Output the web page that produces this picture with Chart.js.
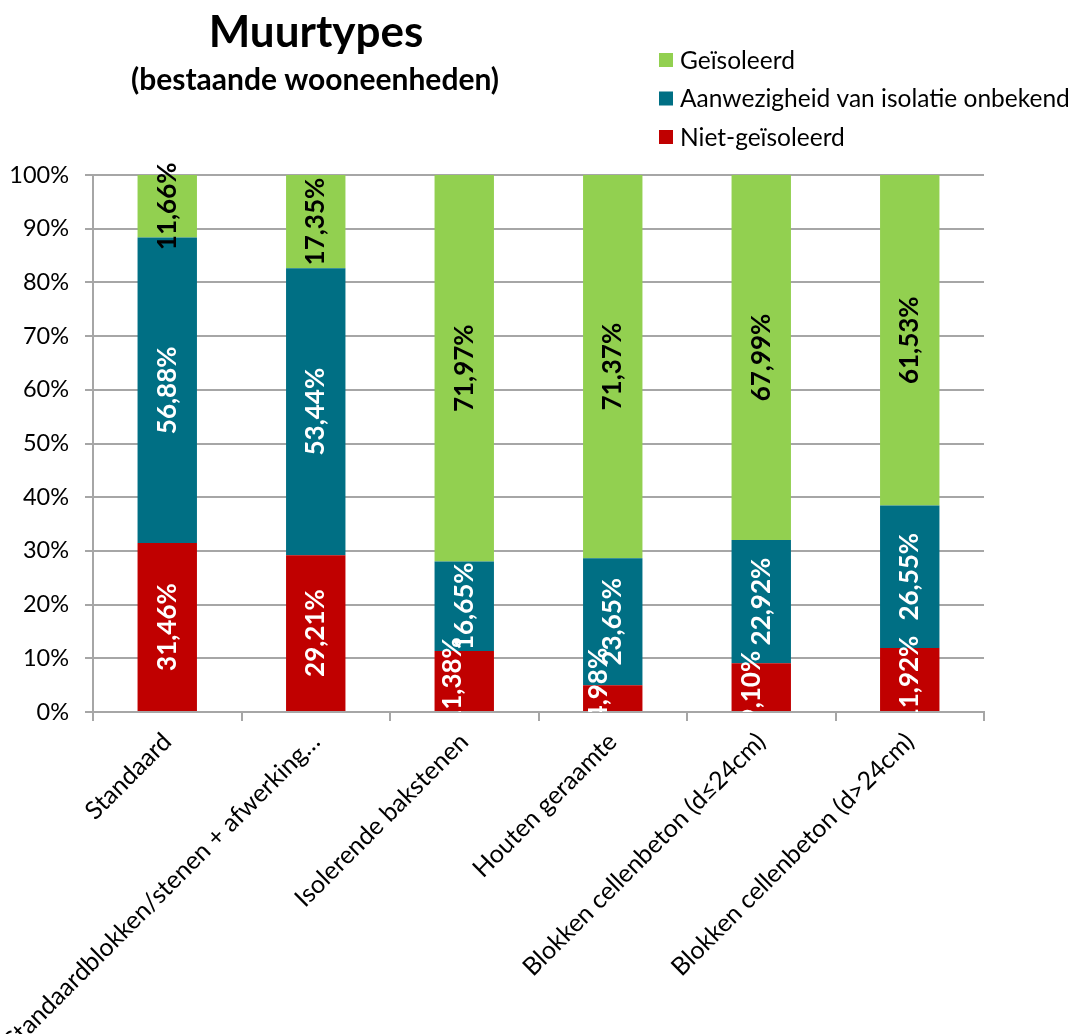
<!DOCTYPE html>
<html lang="nl">
<head>
<meta charset="utf-8">
<title>Muurtypes</title>
<script src="https://cdn.jsdelivr.net/npm/chart.js@4.4.1/dist/chart.umd.min.js"></script>
<style>
  html, body { margin: 0; padding: 0; background: #ffffff; }
  #wrap { position: relative; width: 1075px; height: 1034px; }
</style>
</head>
<body>
<div id="wrap"><canvas id="chart" width="1075" height="1034"></canvas></div>
<script>
// Wall types of existing dwellings, share per insulation status (%)
const categories = [
  'Standaard',
  'Standaardblokken/stenen + afwerking\u2026',
  'Isolerende bakstenen',
  'Houten geraamte',
  'Blokken cellenbeton (d\u226424cm)',
  'Blokken cellenbeton (d>24cm)'
];
const nietGeisoleerd = [31.46, 29.21, 11.38, 4.98, 9.10, 11.92];
const onbekend       = [56.88, 53.44, 16.65, 23.65, 22.92, 26.55];
const geisoleerd     = [11.66, 17.35, 71.97, 71.37, 67.99, 61.53];
const yTicks = [0, 10, 20, 30, 40, 50, 60, 70, 80, 90, 100];

const FONT = 'Lato, "Open Sans", "DejaVu Sans", sans-serif';
const GRID = '#a6a6a6';

const fmt = v => v.toFixed(2).replace('.', ',') + '%';

// Values printed vertically in the middle of each segment, clipped at the baseline.
// Small labels that collide with the one above are nudged sideways/upwards.
const segmentLabels = {
  id: 'segmentLabels',
  afterDatasetsDraw(chart, args, opts) {
    const ctx = chart.ctx;
    const area = chart.chartArea;
    ctx.save();
    ctx.beginPath();
    ctx.rect(0, 0, chart.width, area.bottom);
    ctx.clip();
    ctx.font = 'bold 26px ' + FONT;
    ctx.textAlign = 'center';
    ctx.textBaseline = 'middle';
    chart.data.datasets.forEach((ds, di) => {
      const meta = chart.getDatasetMeta(di);
      const nx = (opts.nudgeX && opts.nudgeX[di]) || [];
      const ny = (opts.nudgeY && opts.nudgeY[di]) || [];
      meta.data.forEach((bar, i) => {
        const cy = (bar.y + bar.base) / 2 + (ny[i] || 0);
        const cx = bar.x + (nx[i] || 0);
        ctx.save();
        ctx.translate(cx, cy);
        ctx.rotate(-Math.PI / 2);
        ctx.fillStyle = ds.labelColor;
        ctx.fillText(fmt(ds.data[i]), 0, 0);
        ctx.restore();
      });
    });
    ctx.restore();
  }
};

// Title block and vertical legend above the plot
const header = {
  id: 'header',
  afterDraw(chart) {
    const ctx = chart.ctx;
    ctx.save();
    ctx.fillStyle = '#000000';
    ctx.textAlign = 'center';
    ctx.textBaseline = 'alphabetic';
    ctx.font = 'bold 44px ' + FONT;
    ctx.fillText('Muurtypes', 316, 47);
    ctx.font = 'bold 30px ' + FONT;
    ctx.fillText('(bestaande wooneenheden)', 315, 90);

    const items = chart.data.datasets.slice().reverse();
    ctx.font = '24.5px ' + FONT;
    ctx.textAlign = 'left';
    ctx.textBaseline = 'middle';
    items.forEach((ds, k) => {
      const y = 60 + k * 38.5;
      ctx.fillStyle = ds.backgroundColor;
      ctx.fillRect(659, y - 7, 14, 14);
      ctx.fillStyle = '#000000';
      ctx.fillText(ds.label, 680, y + 1);
    });
    ctx.restore();
  }
};

new Chart(document.getElementById('chart'), {
  type: 'bar',
  data: {
    labels: categories,
    datasets: [
      { label: 'Niet-ge\u00efsoleerd', data: nietGeisoleerd, backgroundColor: '#C00000', labelColor: '#ffffff' },
      { label: 'Aanwezigheid van isolatie onbekend', data: onbekend, backgroundColor: '#006F84', labelColor: '#ffffff' },
      { label: 'Ge\u00efsoleerd', data: geisoleerd, backgroundColor: '#92D050', labelColor: '#000000' }
    ]
  },
  options: {
    responsive: false,
    animation: false,
    devicePixelRatio: 1,
    layout: { padding: { top: 175, right: 91, left: 0, bottom: 0 } },
    datasets: { bar: { barPercentage: 0.8, categoryPercentage: 0.5, borderWidth: 0 } },
    plugins: {
      legend: { display: false },
      title: { display: false },
      tooltip: { enabled: false },
      segmentLabels: {
        nudgeX: { 0: [0, 0, -12, -14, -10, 0] },
        nudgeY: { 0: [0, 0, 0, -14, 0, 0] }
      }
    },
    scales: {
      x: {
        stacked: true,
        grid: { display: true, drawOnChartArea: false, drawTicks: true, tickLength: 9, color: GRID, lineWidth: 2, offset: true },
        border: { display: true, color: GRID, width: 2 },
        ticks: {
          color: '#000000',
          font: { family: FONT, size: 25 },
          minRotation: 45,
          maxRotation: 45,
          autoSkip: false,
          padding: 6
        },
        afterFit(scale) { scale.height = 322; }
      },
      y: {
        stacked: true,
        min: 0,
        max: 100,
        afterBuildTicks(scale) { scale.ticks = yTicks.map(v => ({ value: v })); },
        grid: { color: GRID, lineWidth: 2, tickLength: 8, drawTicks: true },
        border: { display: true, color: GRID, width: 2 },
        ticks: {
          color: '#000000',
          font: { family: FONT, size: 23.5 },
          padding: 16,
          callback: v => v + '%'
        },
        afterFit(scale) { scale.width = 93; }
      }
    }
  },
  plugins: [segmentLabels, header]
});
</script>
</body>
</html>
